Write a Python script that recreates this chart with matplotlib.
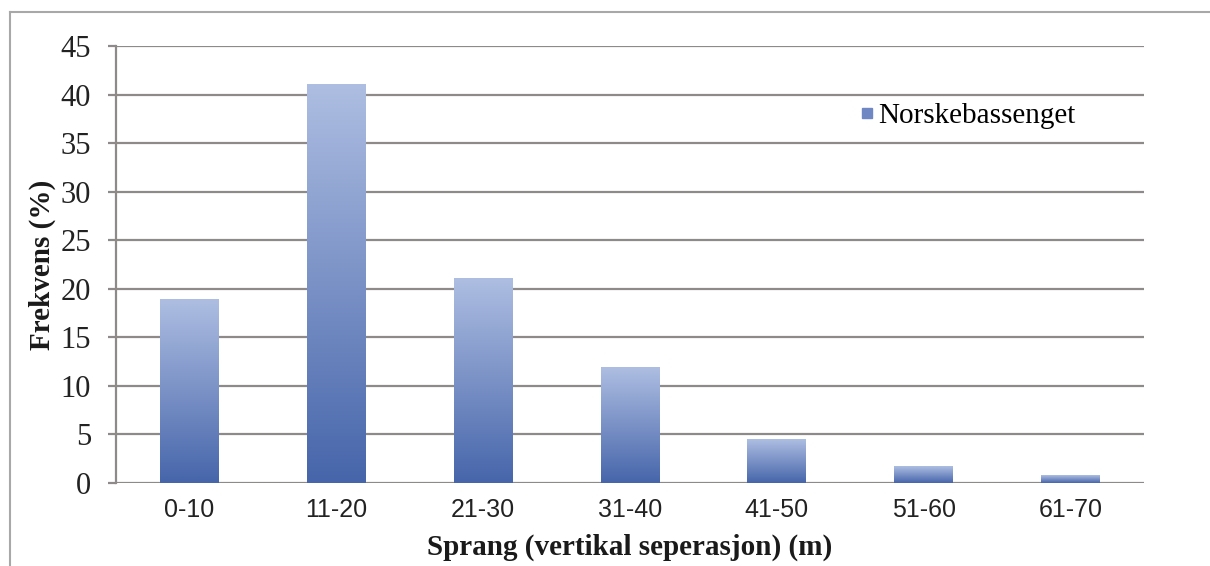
import numpy as np
import matplotlib.pyplot as plt
from matplotlib.lines import Line2D
from matplotlib.colors import LinearSegmentedColormap

# Data
categories = ['0-10', '11-20', '21-30', '31-40', '41-50', '51-60', '61-70']
frekvens = [18.9, 41.0, 21.1, 11.9, 4.5, 1.65, 0.75]
series_name = 'Norskebassenget'

serif = ['Liberation Serif', 'DejaVu Serif']
sans = ['Liberation Sans', 'DejaVu Sans']

fig = plt.figure(figsize=(12.1, 5.66), dpi=100)
ax = fig.add_axes([116 / 1210, 83 / 566, 1028 / 1210, 437 / 566])

# gradient bars: dark blue at the bottom, light at the top
cmap = LinearSegmentedColormap.from_list('bar', ['#4665aa', '#aebee2'])
grad = np.linspace(0, 1, 256).reshape(-1, 1)
x = np.arange(len(categories))
width = 0.40
bars = ax.bar(x, frekvens, width=width, color='none', zorder=3)
for b in bars:
    x0, w, h = b.get_x(), b.get_width(), b.get_height()
    ax.imshow(grad, cmap=cmap, origin='lower', aspect='auto',
              extent=[x0, x0 + w, 0, h], zorder=3)

ax.set_xlim(-0.5, len(categories) - 0.5)
ax.set_ylim(0, 45)
ax.set_yticks(range(0, 46, 5))
ax.set_xticks(x)
ax.set_xticklabels(categories, family=sans, fontsize=18, color='#222222')
for lab in ax.get_yticklabels():
    lab.set_family(serif)
    lab.set_fontsize(22)
    lab.set_color('#222222')

ax.grid(axis='y', color='#8e8a8a', linewidth=1.6, zorder=1)
ax.set_axisbelow(True)
for s in ['top', 'right', 'bottom']:
    ax.spines[s].set_visible(False)
ax.spines['left'].set_color('#8e8a8a')
ax.spines['left'].set_linewidth(1.6)
ax.tick_params(axis='y', length=6, width=1.6, color='#8e8a8a', pad=12)
ax.tick_params(axis='x', length=0, pad=11)

ax.set_xlabel('Sprang (vertikal seperasjon) (m)', family=serif, fontsize=21,
              fontweight='bold', labelpad=8, color='#1a1a1a')
ax.set_ylabel('Frekvens (%)', family=serif, fontsize=21,
              fontweight='bold', labelpad=3, color='#1a1a1a')

handle = Line2D([], [], marker='s', linestyle='none', markersize=7,
                markerfacecolor='#6f87c3', markeredgecolor='#6f87c3')
ax.legend([handle], [series_name], loc='center left',
          bbox_to_anchor=(0.722, 0.84), frameon=False,
          prop={'family': serif, 'size': 21}, handletextpad=0.1,
          handlelength=0.6, borderaxespad=0, borderpad=0)

# thin frame around the picture (left and top edges visible)
fig.add_artist(Line2D([10 / 1210, 10 / 1210], [0, 1 - 12 / 566],
                      transform=fig.transFigure, color='#a8a8a8', linewidth=1.5))
fig.add_artist(Line2D([10 / 1210, 1], [1 - 12 / 566, 1 - 12 / 566],
                      transform=fig.transFigure, color='#a8a8a8', linewidth=1.5))

fig.savefig('out.png', dpi=100)
